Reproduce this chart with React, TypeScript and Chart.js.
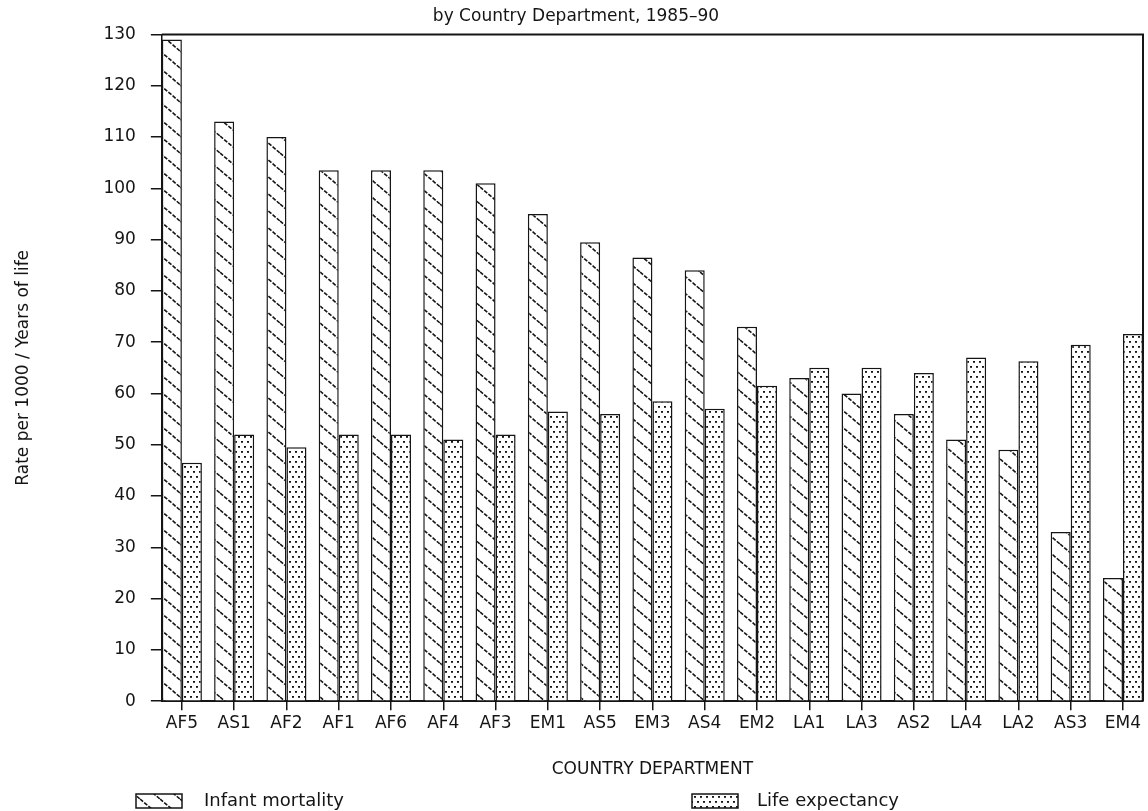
import React, { useEffect, useRef } from 'react';
import { Chart, registerables } from 'chart.js';

Chart.register(...registerables);

// ---- data ----
const departments = ['AF5', 'AS1', 'AF2', 'AF1', 'AF6', 'AF4', 'AF3', 'EM1', 'AS5', 'EM3', 'AS4', 'EM2', 'LA1', 'LA3', 'AS2', 'LA4', 'LA2', 'AS3', 'EM4'];
const infantMortality = [129, 113, 110, 103.5, 103.5, 103.5, 101, 95, 89.5, 86.5, 84, 73, 63, 60, 56, 51, 49, 33, 24];
const lifeExpectancy = [46.5, 52, 49.5, 52, 52, 51, 52, 56.5, 56, 58.5, 57, 61.5, 65, 65, 64, 67, 66.3, 69.5, 71.6];
const seriesNames = ['Infant mortality', 'Life expectancy'];
const titleText = 'by Country Department, 1985\u201390';
const yTitle = 'Rate per 1000 / Years of life';
const xTitle = 'COUNTRY DEPARTMENT';
const yMin = 0;
const yMax = 130;
const yStep = 10;

// ---- style ----
const INK = '#151515';
const FONT = 'DejaVu Sans';
const CAT_PCT = 0.766;

function makeHatch(): CanvasPattern | string {
  const c = document.createElement('canvas');
  c.width = 20;
  c.height = 17;
  const g = c.getContext('2d');
  if (!g) return '#fff';
  g.fillStyle = '#fff';
  g.fillRect(0, 0, 20, 17);
  g.strokeStyle = INK;
  g.lineWidth = 1.6;
  g.setLineDash([4, 1.5]);
  for (const dy of [-17, 0, 17]) {
    g.beginPath();
    g.moveTo(0, dy);
    g.lineTo(20, 17 + dy);
    g.stroke();
  }
  return g.createPattern(c, 'repeat') || '#fff';
}

function makeDots(): CanvasPattern | string {
  const c = document.createElement('canvas');
  c.width = 6;
  c.height = 10;
  const g = c.getContext('2d');
  if (!g) return '#ccc';
  g.fillStyle = '#fff';
  g.fillRect(0, 0, 6, 10);
  g.fillStyle = INK;
  g.fillRect(1, 1, 2, 1.8);
  g.fillRect(4, 6, 2, 1.8);
  return g.createPattern(c, 'repeat') || '#ccc';
}

const framePlugin = {
  id: 'frame',
  afterDatasetsDraw(chart: any) {
    const { ctx, chartArea } = chart;
    ctx.save();
    ctx.strokeStyle = INK;
    ctx.lineWidth = 2;
    ctx.beginPath();
    ctx.moveTo(chartArea.left, chartArea.top);
    ctx.lineTo(chartArea.right, chartArea.top);
    ctx.lineTo(chartArea.right, chartArea.bottom);
    ctx.stroke();
    ctx.restore();
  },
};

const legendSlots = [
  { boxX: 136, textX: 204 },
  { boxX: 692, textX: 757 },
];

const bottomLegendPlugin = {
  id: 'bottomLegend',
  afterDraw(chart: any) {
    const { ctx } = chart;
    const cy = 801;
    ctx.save();
    chart.data.datasets.forEach((ds: any, i: number) => {
      const slot = legendSlots[i];
      if (!slot) return;
      ctx.fillStyle = ds.backgroundColor;
      ctx.fillRect(slot.boxX, cy - 7, 46, 14);
      ctx.strokeStyle = INK;
      ctx.lineWidth = 1.5;
      ctx.strokeRect(slot.boxX, cy - 7, 46, 14);
      ctx.fillStyle = INK;
      ctx.font = `18px "${FONT}"`;
      ctx.textBaseline = 'middle';
      ctx.textAlign = 'left';
      ctx.fillText(ds.label, slot.textX, cy);
    });
    ctx.restore();
  },
};

export default function App() {
  const canvasRef = useRef<HTMLCanvasElement | null>(null);

  useEffect(() => {
    const canvas = canvasRef.current;
    if (!canvas) return;
    const hatch = makeHatch();
    const dots = makeDots();

    const chart = new Chart(canvas, {
      type: 'bar',
      data: {
        labels: departments,
        datasets: [
          {
            label: seriesNames[0],
            data: infantMortality,
            backgroundColor: hatch as any,
            borderColor: INK,
            borderWidth: 1.5,
            categoryPercentage: CAT_PCT,
            barPercentage: 1,
          },
          {
            label: seriesNames[1],
            data: lifeExpectancy,
            backgroundColor: dots as any,
            borderColor: INK,
            borderWidth: 1.5,
            categoryPercentage: CAT_PCT,
            barPercentage: 1,
          },
        ],
      },
      options: {
        responsive: false,
        animation: false,
        devicePixelRatio: 1,
        layout: { padding: { left: 9, right: 5, top: 0, bottom: 31 } },
        font: { family: FONT, size: 17 } as any,
        plugins: {
          legend: { display: false },
          tooltip: { enabled: false },
          title: {
            display: true,
            text: titleText,
            color: INK,
            font: { family: FONT, size: 17, weight: 'normal' },
            padding: { top: 6, bottom: 8 },
          },
        },
        scales: {
          x: {
            offset: false,
            grid: { offset: false, drawOnChartArea: false, drawTicks: true, tickLength: 9, color: INK, lineWidth: 1.5 },
            border: { display: true, color: INK, width: 2 },
            ticks: { padding: 3, autoSkip: false, maxRotation: 0, color: INK, font: { family: FONT, size: 17 } },
            title: {
              display: true,
              text: xTitle,
              color: INK,
              font: { family: FONT, size: 17 },
              padding: { top: 23, bottom: 0 },
            },
            afterBuildTicks: (scale: any) => {
              scale._startValue = -CAT_PCT / 2;
              scale._valueRange = departments.length - 1 + CAT_PCT;
            },
          },
          y: {
            min: yMin,
            max: yMax,
            grid: { drawOnChartArea: false, drawTicks: true, tickLength: 11, color: INK, lineWidth: 1.5 },
            border: { display: true, color: INK, width: 1.5 },
            ticks: { stepSize: yStep, padding: 15, color: INK, font: { family: FONT, size: 17 } },
            title: {
              display: true,
              text: yTitle,
              color: INK,
              font: { family: FONT, size: 17 },
              padding: { top: 4, bottom: 55 },
            },
          },
        },
      } as any,
      plugins: [framePlugin, bottomLegendPlugin],
    });

    return () => chart.destroy();
  }, []);

  return (
    <>
      <style>{`html,body{margin:0;padding:0;overflow:hidden;background:#fff;}`}</style>
      <canvas ref={canvasRef} width={1148} height={811} style={{ display: 'block' }} />
    </>
  );
}
